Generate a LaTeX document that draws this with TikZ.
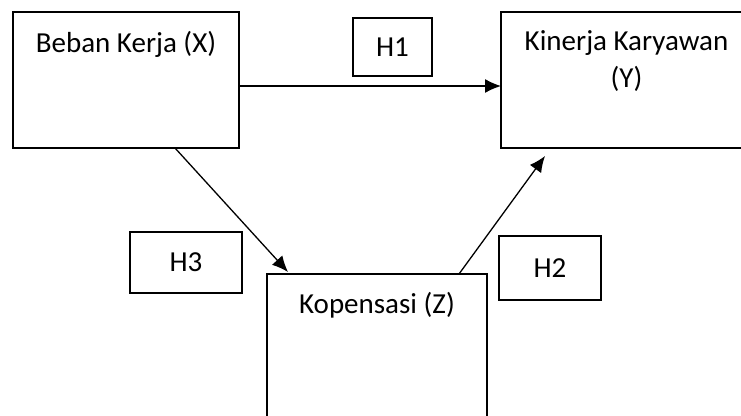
\documentclass[tikz,border=0pt]{standalone}
\usepackage{fontspec}
\setmainfont{Carlito}
\usetikzlibrary{arrows.meta}
\tikzset{
  bigbox/.style={draw, line width=2pt, inner sep=0pt, outer sep=0pt, anchor=north west},
  hbox/.style={draw, line width=2pt, inner sep=0pt, outer sep=0pt, anchor=north west},
  txt/.style={anchor=base, inner sep=0pt, font=\fontsize{29}{37}\selectfont},
  arr/.style={line width=1.3pt, -{Latex[length=16pt,width=14pt]}}
}
\begin{document}
\begin{tikzpicture}[x=1pt,y=-1pt]
\useasboundingbox (0,0) rectangle (741,415);
\clip (0,0) rectangle (741,415);
\fill[white] (0,0) rectangle (741,415);
% main boxes
\node[bigbox, minimum width=226pt, minimum height=136pt] (X) at (13,12) {};
\node[bigbox, minimum width=251pt, minimum height=136pt] (Y) at (501,12) {};
\node[bigbox, minimum width=220pt, minimum height=200pt] (Z) at (267,274) {};
% texts
\node[txt] (tx) at (126,52) {Beban Kerja (X)};
\node[txt] (ty1) at (626.5,50) {Kinerja Karyawan};
\node[txt] (ty2) at (626.5,87) {(Y)};
\node[txt] (tz) at (377,313) {Kopensasi (Z)};
% hypothesis boxes
\node[hbox, minimum width=79pt, minimum height=58pt] (H1) at (353,18) {};
\node[hbox, minimum width=112pt, minimum height=61pt] (H3) at (130,232) {};
\node[hbox, minimum width=102pt, minimum height=64pt] (H2) at (499,236) {};
\node[txt, anchor=center] (h1t) at (H1.center) {H1};
\node[txt, anchor=center] (h3t) at (H3.center) {H3};
\node[txt, anchor=center] (h2t) at (H2.center) {H2};
% arrows
\draw[arr] ([yshift=-6pt]X.east) -- ([yshift=-6pt]Y.west);
\draw[arr] ([xshift=49pt]X.south) -- ([xshift=21pt,yshift=2pt]Z.north west);
\draw[arr] ([xshift=-28pt]Z.north east) -- ([xshift=44pt,yshift=-8pt]Y.south west);
\end{tikzpicture}
\end{document}
